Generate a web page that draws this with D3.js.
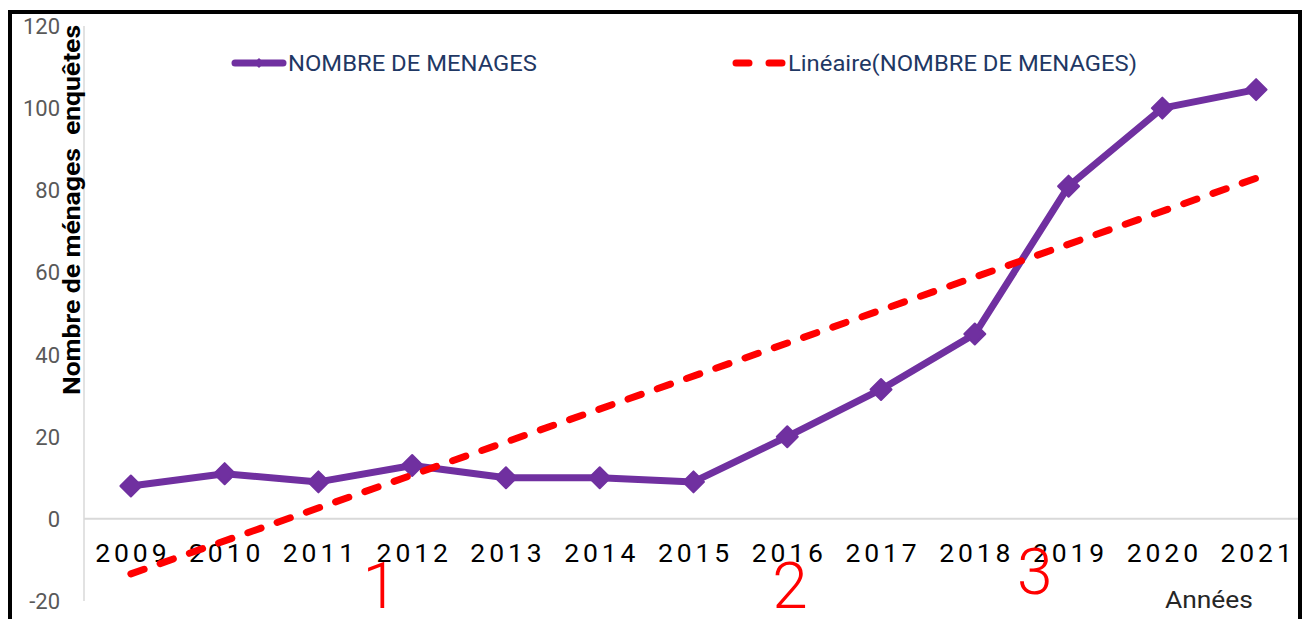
<!DOCTYPE html>
<html>
<head>
<meta charset="utf-8">
<script src="https://cdn.jsdelivr.net/npm/d3@7"></script>
<style>
  body { margin: 0; background: #fff; }
  svg { display: block; font-family: Roboto, "Noto Sans", sans-serif; }
</style>
</head>
<body>
<script>
// data
var years = [2009, 2010, 2011, 2012, 2013, 2014, 2015, 2016, 2017, 2018, 2019, 2020, 2021];
var menages = [8, 11, 9, 13, 10, 10, 9, 20, 31.5, 45, 81, 100, 104.5];
var yTicks = [-20, 0, 20, 40, 60, 80, 100, 120];
var seriesName = "NOMBRE DE MENAGES";
var trendName = "Linéaire(NOMBRE DE MENAGES)";
var annotLabels = ["1", "2", "3"];
var annotYears = [2011.66, 2016.03, 2018.64];

var W = 1308, H = 619;
var plot = {left: 84, right: 1303, top: 26, bottom: 601};

var svg = d3.select("body").append("svg")
    .attr("width", W)
    .attr("height", H);

var x = d3.scalePoint().domain(years).range([plot.left, plot.right]).padding(0.5),
    xLin = d3.scaleLinear().domain([years[0], years[years.length - 1]])
      .range([x(years[0]), x(years[years.length - 1])]),
    y = d3.scaleLinear().domain([-20, 120]).range([plot.bottom, plot.top]);

// vertical axis line + zero line
svg.append("line")
    .attr("x1", plot.left).attr("x2", plot.left)
    .attr("y1", y(120)).attr("y2", y(-20))
    .attr("stroke", "#d9d9d9").attr("stroke-width", 1.5);
svg.append("line")
    .attr("x1", plot.left).attr("x2", 1298)
    .attr("y1", y(0)).attr("y2", y(0))
    .attr("stroke", "#d9d9d9").attr("stroke-width", 2);

// y tick labels
svg.append("g")
    .selectAll("text")
    .data(yTicks)
    .enter().append("text")
    .attr("x", 60)
    .attr("y", d => y(d) + 8)
    .attr("text-anchor", "end")
    .attr("font-size", 22)
    .attr("fill", "#595959")
    .text(d => d);

// y axis title (white box behind, it overlaps the labels)
svg.append("rect")
    .attr("x", 62).attr("y", 24).attr("width", 21).attr("height", 374)
    .attr("fill", "#fff");
svg.append("text")
    .attr("transform", "translate(80, 210) rotate(-90)")
    .attr("text-anchor", "middle")
    .attr("font-size", 23)
    .attr("font-weight", "bold")
    .attr("fill", "#000")
    .attr("textLength", 370)
    .attr("lengthAdjust", "spacingAndGlyphs")
    .attr("xml:space", "preserve")
    .text("Nombre de ménages  enquêtes");

// x tick labels
svg.append("g")
    .selectAll("text")
    .data(years)
    .enter().append("text")
    .attr("x", d => x(d) + 2)
    .attr("y", 562)
    .attr("text-anchor", "middle")
    .attr("font-size", 26.5)
    .attr("letter-spacing", 3.9)
    .attr("fill", "#000")
    .text(d => d);

// linear trend (least squares on the series)
var n = years.length,
    mx = d3.mean(years), my = d3.mean(menages),
    slope = d3.sum(years, (d, i) => (d - mx) * (menages[i] - my)) / d3.sum(years, d => (d - mx) * (d - mx)),
    icpt = my - slope * mx;
var trend = [years[0], years[n - 1]].map(t => [t, icpt + slope * t]);

// series line
var line = d3.line()
    .x((d, i) => x(years[i]))
    .y(d => y(d));
svg.append("path")
    .datum(menages)
    .attr("fill", "none")
    .attr("stroke", "#7030a0")
    .attr("stroke-width", 7)
    .attr("stroke-linejoin", "round")
    .attr("d", line);

var diamond = "M0,-10.5L10.5,0L0,10.5L-10.5,0Z";
svg.append("g")
    .selectAll("path")
    .data(menages)
    .enter().append("path")
    .attr("transform", (d, i) => `translate(${x(years[i])},${y(d)})`)
    .attr("d", diamond)
    .attr("fill", "#7030a0")
    .attr("stroke", "#7030a0")
    .attr("stroke-width", 2)
    .attr("stroke-linejoin", "round");

svg.append("path")
    .datum(trend)
    .attr("fill", "none")
    .attr("stroke", "#ff0000")
    .attr("stroke-width", 7)
    .attr("stroke-linecap", "round")
    .attr("stroke-dasharray", "14 17")
    .attr("d", d3.line().x(d => xLin(d[0])).y(d => y(d[1])));

// legend
var lg = svg.append("g");
lg.append("line")
    .attr("x1", 235).attr("x2", 283).attr("y1", 63).attr("y2", 63)
    .attr("stroke", "#7030a0").attr("stroke-width", 7).attr("stroke-linecap", "round");
lg.append("path")
    .attr("transform", "translate(259,63)")
    .attr("d", "M0,-5L5,0L0,5L-5,0Z")
    .attr("fill", "#7030a0");
lg.append("text")
    .attr("x", 288).attr("y", 71)
    .attr("font-size", 22)
    .attr("fill", "#1f3864")
    .attr("textLength", 249)
    .attr("lengthAdjust", "spacingAndGlyphs")
    .text(seriesName);
lg.append("line")
    .attr("x1", 736).attr("x2", 782).attr("y1", 63).attr("y2", 63)
    .attr("stroke", "#ff0000").attr("stroke-width", 7).attr("stroke-linecap", "round")
    .attr("stroke-dasharray", "13 20");
lg.append("text")
    .attr("x", 788).attr("y", 71)
    .attr("font-size", 22)
    .attr("fill", "#1f3864")
    .attr("textLength", 349)
    .attr("lengthAdjust", "spacingAndGlyphs")
    .text(trendName);

// axis name
svg.append("text")
    .attr("x", 1165).attr("y", 608)
    .attr("font-size", 24)
    .attr("fill", "#262626")
    .attr("textLength", 88)
    .attr("lengthAdjust", "spacingAndGlyphs")
    .text("Années");

// red annotations
svg.append("g")
    .selectAll("text")
    .data(annotLabels)
    .enter().append("text")
    .attr("x", (d, i) => xLin(annotYears[i]))
    .attr("y", (d, i) => i == 2 ? 594 : 608)
    .attr("text-anchor", "middle")
    .attr("font-size", 64)
    .attr("font-weight", 300)
    .attr("fill", "#ff0000")
    .text(d => d);

// frame
svg.append("rect")
    .attr("x", 10).attr("y", 12)
    .attr("width", 1290).attr("height", 640)
    .attr("fill", "none")
    .attr("stroke", "#000")
    .attr("stroke-width", 4);
</script>
</body>
</html>
